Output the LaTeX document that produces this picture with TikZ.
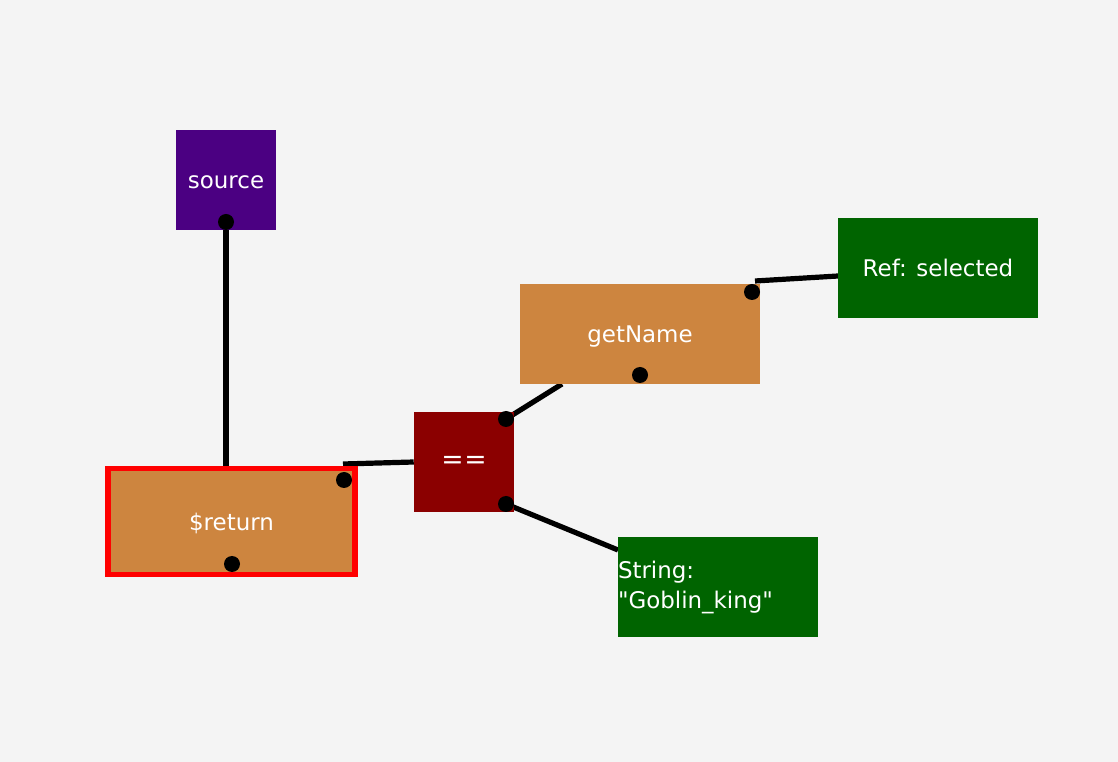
\documentclass[tikz,border=0pt]{standalone}
\usepackage{fontspec}
\setmainfont{DejaVu Sans}[Ligatures=TeXOff]
\pgfdeclarelayer{bg}
\pgfsetlayers{bg,main}
\definecolor{bgc}{HTML}{F4F4F4}
\definecolor{srcc}{HTML}{4B0082}
\definecolor{peruc}{HTML}{CD853F}
\definecolor{eqc}{HTML}{8B0000}
\definecolor{grc}{HTML}{006400}
\definecolor{redc}{HTML}{FF0000}
\tikzset{
  box/.style={rectangle, inner sep=0pt, text=white, font=\fontsize{17.2pt}{22.5pt}\selectfont},
  onel/.style={text height=13pt, text depth=0pt},
  pin/.style={circle, fill=black, inner sep=0pt, minimum size=12pt},
  wire/.style={draw=black, line width=3.9pt}
}
\begin{document}
\begin{tikzpicture}[x=0.75pt, y=-0.75pt]
\begin{pgfonlayer}{bg}
\fill[bgc] (0,0) rectangle (1118,762);
\end{pgfonlayer}
\useasboundingbox (0,0) rectangle (1118,762);
% nodes
\node[box, onel, fill=srcc, minimum width=75pt, minimum height=75pt] (src) at (226,180) {source};
\node[box, onel, fill=peruc, draw=redc, line width=4.2pt, minimum width=185pt, minimum height=79.5pt] (ret) at (231.5,521.5) {\$return};
\node[box, fill=eqc, minimum width=75pt, minimum height=75pt, font=\fontsize{20pt}{24pt}\selectfont] (eq) at (464,462) {=\kern0.5pt=};
\node[box, onel, fill=peruc, minimum width=180pt, minimum height=75pt] (gn) at (640,334) {getName};
\node[box, onel, fill=grc, minimum width=150pt, minimum height=75pt] (ref) at (938,268) {Ref: selected};
\node[box, fill=grc, minimum width=150pt, minimum height=75pt, text width=150pt, align=left] (str) at (718,587) {String:\\"Goblin\_king"};
% pins
\node[pin] (srcp) at (226,222) {};
\node[pin] (retp1) at (344,480) {};
\node[pin] (retp2) at (232,564) {};
\node[pin] (eqp1) at (506,419) {};
\node[pin] (eqp2) at (506,504) {};
\node[pin] (gnp1) at (752,292) {};
\node[pin] (gnp2) at (640,375) {};
% connector ends
\coordinate (retout) at (343,464);
\coordinate (gnin) at (562,384);
\coordinate (gnout) at (755,281);
\coordinate (refin) at (838,276);
\coordinate (strin) at (618,550);
\begin{pgfonlayer}{bg}
\draw[wire] (srcp.center) -- (srcp.center |- ret.north);
\draw[wire] (retout) -- (eq.west);
\draw[wire] (eqp1.center) -- (gnin);
\draw[wire] (gnout) -- (refin);
\draw[wire] (eqp2.center) -- (strin);
\end{pgfonlayer}
\end{tikzpicture}
\end{document}
